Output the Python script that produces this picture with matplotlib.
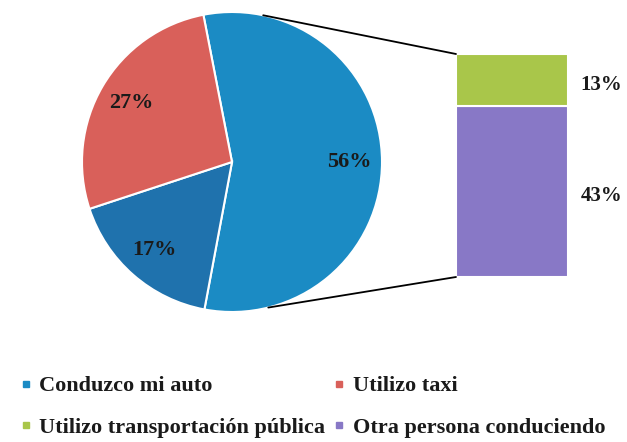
import matplotlib
matplotlib.use("Agg")
import matplotlib.pyplot as plt
from matplotlib.patches import ConnectionPatch
from matplotlib.lines import Line2D
import numpy as np

# data
pie_labels = ["Conduzco mi auto", "Otra persona (pie)", "Utilizo taxi"]
pie_values = [56, 17, 27]
pie_colors = ["#1b8bc4", "#1f72ad", "#d9605a"]

bar_values = [43, 13]          # bottom -> top
bar_labels = ["43%", "13%"]
bar_colors = ["#8878c6", "#a9c64a"]

legend_labels = ["Conduzco mi auto", "Utilizo taxi",
                 "Utilizo transportación pública", "Otra persona conduciendo"]
legend_colors = ["#1b8bc4", "#d9605a", "#a9c64a", "#8878c6"]

W, H = 627, 442
fig = plt.figure(figsize=(W / 100, H / 100), dpi=100)
fig.patch.set_facecolor("white")
font = ["Liberation Serif", "DejaVu Serif"]

# pie axes
cx, cy, r = 232, 162, 150
axp = fig.add_axes([(cx - r) / W, (H - cy - r) / H, 2 * r / W, 2 * r / H])
wedges, texts, autotexts = axp.pie(
    pie_values, colors=pie_colors, startangle=101, counterclock=False,
    autopct="%d%%", pctdistance=0.78,
    wedgeprops=dict(edgecolor="white", linewidth=1.5),
    textprops=dict(fontsize=16, fontweight="bold", family=font, color="#1a1a1a"))
axp.set_xlim(-1, 1)
axp.set_ylim(-1, 1)
axp.set_aspect("auto")
axp.axis("off")

# bar axes
bx0, bx1, by0, by1 = 456, 568, 54, 277
axb = fig.add_axes([bx0 / W, (H - by1) / H, (bx1 - bx0) / W, (by1 - by0) / H])
bottom = 0
for v, lab, c in zip(bar_values, bar_labels, bar_colors):
    axb.bar(0.5, v, width=1.0, bottom=bottom, color=c, edgecolor="white", linewidth=1.5)
    axb.text(1.3, bottom + v / 2 - 1.2, lab, ha="center", va="center", fontsize=15,
             fontweight="bold", family=font, color="#1a1a1a")
    bottom += v
axb.set_xlim(0, 1)
axb.set_ylim(0, sum(bar_values))
axb.axis("off")

# connector lines
for ang, yb in [(78, sum(bar_values)), (-76, 0)]:
    a = np.deg2rad(ang)
    con = ConnectionPatch(xyA=(np.cos(a), np.sin(a)), coordsA=axp.transData,
                          xyB=(0, yb), coordsB=axb.transData,
                          color="black", linewidth=1.3)
    fig.add_artist(con)

# legend (column-major order for ncol=2)
order = [0, 2, 1, 3]
handles = [Line2D([], [], marker="s", linestyle="none", markersize=5,
                  markerfacecolor=legend_colors[i], markeredgecolor=legend_colors[i])
           for i in order]
labels = [legend_labels[i] for i in order]
leg = fig.legend(handles, labels, ncol=2, loc="upper left",
                 bbox_to_anchor=(10 / W, 1 - 367 / H), frameon=False,
                 prop=dict(family=font, weight="bold", size=16),
                 handlelength=0.6, handletextpad=0.3, columnspacing=0.35,
                 labelspacing=0.95, borderaxespad=0)
for t in leg.get_texts():
    t.set_color("#1a1a1a")

fig.savefig("out.png", dpi=100, facecolor="white")
